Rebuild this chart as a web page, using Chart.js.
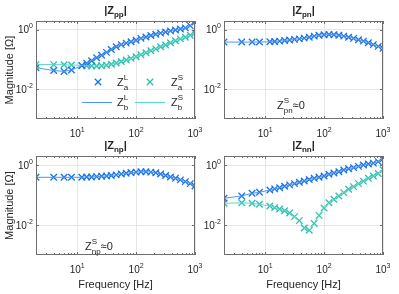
<!DOCTYPE html>
<html>
<head>
<meta charset="utf-8">
<script src="https://cdn.jsdelivr.net/npm/chart.js@4.4.1/dist/chart.umd.min.js"></script>
<style>
  html, body { margin: 0; padding: 0; background: #fff; }
  #wrap { position: relative; width: 399px; height: 294px; overflow: hidden; }
  #wrap canvas { position: absolute; }
</style>
</head>
<body>
<div id="wrap">
  <canvas id="cPP" width="212" height="147" style="left:0;top:0"></canvas>
  <canvas id="cPN" width="199" height="147" style="left:200px;top:0"></canvas>
  <canvas id="cNP" width="212" height="159" style="left:0;top:135px"></canvas>
  <canvas id="cNN" width="199" height="159" style="left:200px;top:135px"></canvas>
</div>
<script>
// frequency points [Hz]
const freqHz = [2, 4, 6, 8, 12, 14.5, 17.6, 21.4, 26, 31.5, 38, 46, 56, 68, 82, 100,
  121, 147, 178, 216, 261, 317, 384, 466, 565, 685, 830, 1000];

// |Z| magnitudes [Ohm], L = blue, S = teal
const zppL = [0.053, 0.043, 0.040, 0.045, 0.062, 0.075, 0.092, 0.115, 0.14, 0.175, 0.22, 0.27, 0.32, 0.36,
  0.40, 0.45, 0.52, 0.58, 0.65, 0.72, 0.78, 0.85, 0.93, 1.0, 1.07, 1.17, 1.4, 1.85];
const zppS = [0.068, 0.068, 0.067, 0.066, 0.064, 0.062, 0.061, 0.061, 0.062, 0.065, 0.07, 0.077, 0.086, 0.097,
  0.11, 0.125, 0.145, 0.17, 0.2, 0.23, 0.27, 0.31, 0.37, 0.43, 0.5, 0.57, 0.66, 0.78];
const zpnL = [0.39, 0.39, 0.39, 0.39, 0.40, 0.41, 0.42, 0.44, 0.46, 0.48, 0.5, 0.53, 0.57, 0.62,
  0.66, 0.69, 0.7, 0.69, 0.66, 0.62, 0.57, 0.52, 0.47, 0.42, 0.37, 0.32, 0.28, 0.24];
const znpL = [0.39, 0.39, 0.39, 0.39, 0.39, 0.40, 0.40, 0.41, 0.42, 0.43, 0.45, 0.47, 0.5, 0.53,
  0.56, 0.58, 0.6, 0.6, 0.58, 0.55, 0.5, 0.45, 0.4, 0.36, 0.32, 0.28, 0.24, 0.2];
const znnL = [0.078, 0.093, 0.114, 0.123, 0.147, 0.16, 0.175, 0.195, 0.218, 0.24, 0.265, 0.295, 0.33, 0.36,
  0.39, 0.43, 0.49, 0.54, 0.6, 0.68, 0.75, 0.82, 0.9, 1.0, 1.08, 1.16, 1.3, 1.6];
const znnS = [0.053, 0.055, 0.053, 0.049, 0.043, 0.038, 0.034, 0.03, 0.025, 0.019, 0.014, 0.0079, 0.0067, 0.0113,
  0.021, 0.037, 0.055, 0.072, 0.093, 0.12, 0.155, 0.19, 0.24, 0.29, 0.36, 0.43, 0.52, 0.7];

// axes
const xTicks = [10, 100, 1000];
const xTickExp = ['1', '2', '3'];
const xMinor = [2, 3, 4, 5, 6, 7, 8, 9, 20, 30, 40, 50, 60, 70, 80, 90, 200, 300, 400, 500, 600, 700, 800, 900];
const yTicks = [0.01, 1];
const yTickExp = ['-2', '0'];
const xRange = [2, 1000];
const yRange = [0.001, 2];

const BLUE = '#1a72e6';
const BLUE_LINE = '#4c97f0';
const TEAL = '#2bbfae';
const TEAL_LINE = '#5cd6c9';
const AXIS = '#6e6e6e';
const TEXT = '#262626';
const GRID = '#e6e6e6';
const FONT = '"Liberation Sans", Arial, Helvetica, sans-serif';

function font(size, bold) {
  return (bold ? 'bold ' : '') + size + 'px ' + FONT;
}

// rich text runs: {t, s, b, dy} or stacked {sup, sub, s, up, down}
function runWidth(ctx, parts) {
  let w = 0;
  for (const p of parts) {
    ctx.font = font(p.s, p.b);
    if (p.sup !== undefined || p.sub !== undefined) {
      w += Math.max(ctx.measureText(p.sup || '').width, ctx.measureText(p.sub || '').width);
    } else {
      w += ctx.measureText(p.t).width;
    }
  }
  return w;
}

function drawRun(ctx, parts, x, y, align) {
  const w = runWidth(ctx, parts);
  let cx = align === 'center' ? x - w / 2 : align === 'right' ? x - w : x;
  ctx.textAlign = 'left';
  ctx.textBaseline = 'alphabetic';
  for (const p of parts) {
    ctx.font = font(p.s, p.b);
    if (p.sup !== undefined || p.sub !== undefined) {
      if (p.sup) ctx.fillText(p.sup, cx, y + p.up);
      if (p.sub) ctx.fillText(p.sub, cx, y + p.down);
      cx += Math.max(ctx.measureText(p.sup || '').width, ctx.measureText(p.sub || '').width);
    } else {
      ctx.fillText(p.t, cx, y + (p.dy || 0));
      cx += ctx.measureText(p.t).width;
    }
  }
}

function tickLabel(exp) {
  return [{ t: '10', s: 10 }, { t: exp, s: 7, dy: -5 }];
}

function drawCross(ctx, x, y, r, color) {
  ctx.strokeStyle = color;
  ctx.lineWidth = 1.3;
  ctx.beginPath();
  ctx.moveTo(x - r, y - r); ctx.lineTo(x + r, y + r);
  ctx.moveTo(x - r, y + r); ctx.lineTo(x + r, y - r);
  ctx.stroke();
}

const deco = {
  id: 'deco',
  afterDraw(chart, args, o) {
    const ctx = chart.ctx;
    const a = chart.chartArea;
    const xs = chart.scales.x;
    const ys = chart.scales.y;
    ctx.save();

    // box + ticks
    ctx.strokeStyle = AXIS;
    ctx.lineWidth = 1;
    ctx.strokeRect(a.left + 0.5, a.top + 0.5, a.right - a.left - 1, a.bottom - a.top - 1);
    ctx.beginPath();
    xMinor.forEach((v) => {
      const px = Math.round(xs.getPixelForValue(v)) + 0.5;
      ctx.moveTo(px, a.bottom); ctx.lineTo(px, a.bottom - 2);
      ctx.moveTo(px, a.top); ctx.lineTo(px, a.top + 2);
    });
    xTicks.forEach((v) => {
      const px = Math.round(xs.getPixelForValue(v)) + 0.5;
      ctx.moveTo(px, a.bottom); ctx.lineTo(px, a.bottom - 3);
      ctx.moveTo(px, a.top); ctx.lineTo(px, a.top + 3);
    });
    yTicks.forEach((v) => {
      const py = Math.round(ys.getPixelForValue(v)) + 0.5;
      ctx.moveTo(a.left, py); ctx.lineTo(a.left + 3, py);
      ctx.moveTo(a.right, py); ctx.lineTo(a.right - 3, py);
    });
    ctx.stroke();

    // tick labels
    ctx.fillStyle = TEXT;
    xTicks.forEach((v, i) => {
      drawRun(ctx, tickLabel(xTickExp[i]), xs.getPixelForValue(v), a.bottom + 17.5, 'center');
    });
    yTicks.forEach((v, i) => {
      drawRun(ctx, tickLabel(yTickExp[i]), a.left - 3, ys.getPixelForValue(v) + 3.5, 'right');
    });

    // title |Z_xx|
    drawRun(ctx, [
      { t: '|Z', s: 11, b: true },
      { t: o.title, s: 8, b: true, dy: 3 },
      { t: '|', s: 11, b: true },
    ], (a.left + a.right) / 2, a.top - 7, 'center');

    if (o.ylabel) {
      ctx.save();
      ctx.translate(13, (a.top + a.bottom) / 2);
      ctx.rotate(-Math.PI / 2);
      ctx.font = font(11);
      ctx.textAlign = 'center';
      ctx.textBaseline = 'alphabetic';
      ctx.fillText('Magnitude [\u03A9]', 0, 0);
      ctx.restore();
    }
    if (o.xlabel) {
      ctx.font = font(11);
      ctx.textAlign = 'center';
      ctx.textBaseline = 'alphabetic';
      ctx.fillText('Frequency [Hz]', (a.left + a.right) / 2, a.bottom + 33);
    }

    if (o.note) {
      drawRun(ctx, [
        { t: 'Z', s: 11 },
        { sup: 'S', sub: o.note.sub, s: 8, up: -6, down: 3.5 },
        { t: '\u22480', s: 11 },
      ], a.left + o.note.dx, a.bottom - o.note.dy, 'left');
    }

    if (o.legend) {
      const r1 = a.top + 61;
      const r2 = a.top + 81;
      drawCross(ctx, a.left + 62, r1, 3.2, BLUE);
      drawCross(ctx, a.left + 114, r1, 3.2, TEAL);
      ctx.lineWidth = 1;
      ctx.strokeStyle = BLUE_LINE;
      ctx.beginPath(); ctx.moveTo(a.left + 46, r2 + 0.5); ctx.lineTo(a.left + 76, r2 + 0.5); ctx.stroke();
      ctx.strokeStyle = TEAL_LINE;
      ctx.beginPath(); ctx.moveTo(a.left + 99, r2 + 0.5); ctx.lineTo(a.left + 129, r2 + 0.5); ctx.stroke();
      ctx.fillStyle = TEXT;
      const lbl = (sup, sub) => [{ t: 'Z', s: 11 }, { sup, sub, s: 8, up: -6, down: 3.5 }];
      drawRun(ctx, lbl('L', 'a'), a.left + 81, r1 + 4, 'left');
      drawRun(ctx, lbl('S', 'a'), a.left + 135, r1 + 4, 'left');
      drawRun(ctx, lbl('L', 'b'), a.left + 81, r2 + 4, 'left');
      drawRun(ctx, lbl('S', 'b'), a.left + 135, r2 + 4, 'left');
    }
    ctx.restore();
  },
};

function pts(values) {
  return freqHz.map((f, i) => ({ x: f, y: values[i] }));
}

function makeChart(id, cfg) {
  const datasets = [];
  // lines (b) on top of markers (a); first dataset is drawn last
  cfg.series.forEach((s) => {
    datasets.push({
      data: pts(s.values), showLine: true, pointRadius: 0,
      borderColor: s.line, borderWidth: 1, fill: false,
    });
  });
  cfg.series.forEach((s) => {
    datasets.push({
      data: pts(s.values), showLine: false, pointStyle: 'crossRot',
      pointRadius: 4.6, borderColor: s.color, backgroundColor: s.color, pointBorderWidth: 1.3,
    });
  });
  return new Chart(document.getElementById(id), {
    type: 'scatter',
    data: { datasets },
    options: {
      responsive: false,
      animation: false,
      events: [],
      layout: { padding: { top: cfg.top, right: cfg.right, left: 0, bottom: 0 } },
      scales: {
        x: {
          type: 'logarithmic', min: xRange[0], max: xRange[1],
          afterBuildTicks: (s) => { s.ticks = xTicks.map((v) => ({ value: v })); },
          afterFit: (s) => { s.height = cfg.xh; },
          ticks: { display: false },
          grid: { color: GRID, drawTicks: false },
          border: { display: false },
        },
        y: {
          type: 'logarithmic', min: yRange[0], max: yRange[1],
          afterBuildTicks: (s) => { s.ticks = yTicks.map((v) => ({ value: v })); },
          afterFit: (s) => { s.width = cfg.yw; },
          ticks: { display: false },
          grid: { color: GRID, drawTicks: false },
          border: { display: false },
        },
      },
      plugins: {
        legend: { display: false },
        tooltip: { enabled: false },
        deco: cfg.deco,
      },
    },
    plugins: [deco],
  });
}

makeChart('cPP', {
  top: 21, right: 17, yw: 36, xh: 28,
  series: [
    { values: zppL, color: BLUE, line: BLUE_LINE },
    { values: zppS, color: TEAL, line: TEAL_LINE },
  ],
  deco: { title: 'pp', ylabel: true, legend: true },
});
makeChart('cPN', {
  top: 21, right: 16, yw: 24, xh: 28,
  series: [{ values: zpnL, color: BLUE, line: BLUE_LINE }],
  deco: { title: 'pn', note: { sub: 'pn', dx: 53, dy: 10 } },
});
makeChart('cNP', {
  top: 21, right: 17, yw: 36, xh: 39,
  series: [{ values: znpL, color: BLUE, line: BLUE_LINE }],
  deco: { title: 'np', ylabel: true, xlabel: true, note: { sub: 'np', dx: 49, dy: 5 } },
});
makeChart('cNN', {
  top: 21, right: 16, yw: 24, xh: 39,
  series: [
    { values: znnL, color: BLUE, line: BLUE_LINE },
    { values: znnS, color: TEAL, line: TEAL_LINE },
  ],
  deco: { title: 'nn', xlabel: true },
});
</script>
</body>
</html>
